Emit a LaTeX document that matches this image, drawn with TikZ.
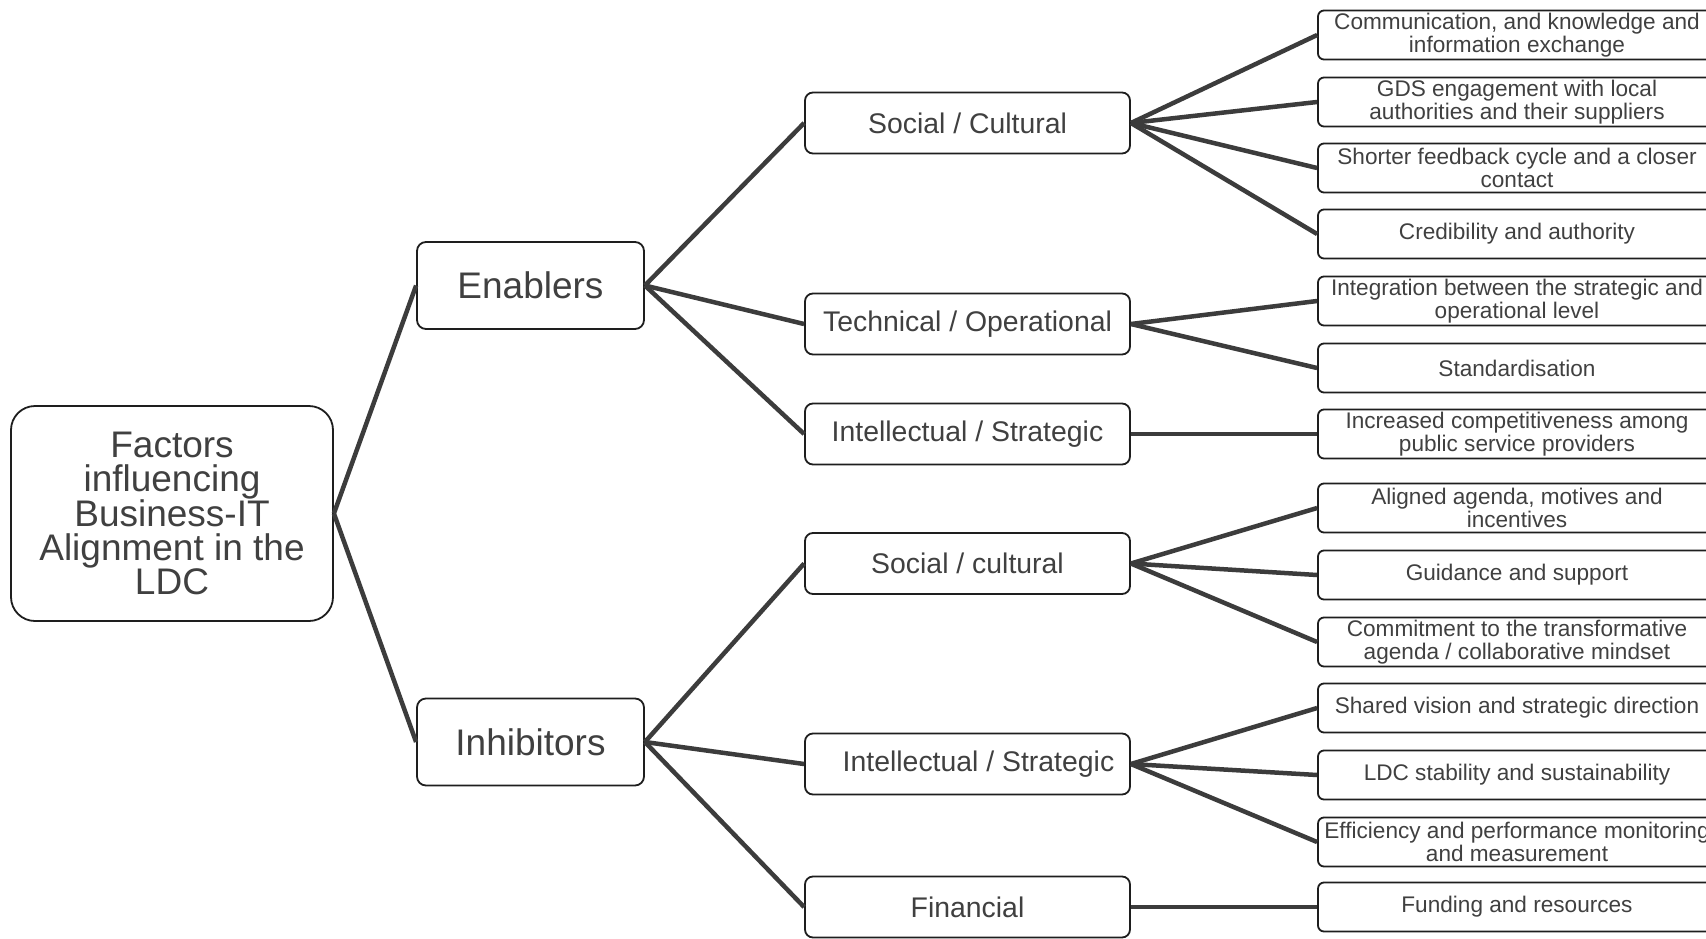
\documentclass[tikz,border=0pt]{standalone}
\usepackage{fontspec}
\setmainfont{Liberation Sans}
\begin{document}
\begin{tikzpicture}[x=1pt,y=-1pt,
  box/.style={draw=boxline, line width=1.8pt, fill=white, text=txt, align=center, inner sep=0pt},
  rootbox/.style={box, rounded corners=24pt, minimum width=322pt, minimum height=215pt,
    font=\fontsize{37}{34}\selectfont},
  groupbox/.style={box, rounded corners=9pt, minimum width=227pt, minimum height=87pt,
    font=\fontsize{37}{34}\selectfont},
  catbox/.style={box, rounded corners=8pt, minimum width=325pt, minimum height=61pt,
    font=\fontsize{28.4}{30}\selectfont},
  leafbox/.style={box, rounded corners=6pt, minimum width=398pt, minimum height=49pt,
    font=\fontsize{22.6}{23}\selectfont},
  link/.style={draw=conn, line width=4.5pt}
]
\definecolor{boxline}{HTML}{1E1E1E}
\definecolor{conn}{HTML}{3C3C3C}
\definecolor{txt}{HTML}{404040}

\fill[white] (0,0) rectangle (1706,938);
\useasboundingbox (0,0) rectangle (1706,938);
\clip (0,0) rectangle (1706,938);

% root and the two main branches
\node[rootbox] (root) at (172,513.5) {Factors\\influencing\\Business-IT\\Alignment in the\\LDC};
\node[groupbox] (enab) at (530.5,285.5) {Enablers};
\node[groupbox] (inhib) at (530.5,742) {Inhibitors};

% categories
\node[catbox] (esoc) at (967.5,123) {Social / Cultural};
\node[catbox] (etech) at (967.5,324) {Technical / Operational};
\node[catbox] (eint) at (967.5,434) {Intellectual / Strategic};
\node[catbox] (isoc) at (967.5,563.5) {Social / cultural};
\node[catbox] (iint) at (967.5,764) {\hspace*{22pt}Intellectual / Strategic};
\node[catbox] (ifin) at (967.5,907) {Financial};

% factors
\node[leafbox] (f1) at (1517,35) {Communication, and knowledge and\\information exchange};
\node[leafbox] (f2) at (1517,102) {GDS engagement with local\\authorities and their suppliers};
\node[leafbox] (f3) at (1517,168) {Shorter feedback cycle and a closer\\contact};
\node[leafbox] (f4) at (1517,234) {Credibility and authority};
\node[leafbox] (f5) at (1517,301) {Integration between the strategic and\\operational level};
\node[leafbox] (f6) at (1517,368) {Standardisation};
\node[leafbox] (f7) at (1517,434) {Increased competitiveness among\\public service providers};
\node[leafbox] (f8) at (1517,508) {Aligned agenda, motives and\\incentives};
\node[leafbox] (f9) at (1517,575) {Guidance and support};
\node[leafbox] (f10) at (1517,642) {Commitment to the transformative\\agenda / collaborative mindset};
\node[leafbox] (f11) at (1517,708) {Shared vision and strategic direction};
\node[leafbox] (f12) at (1517,775) {LDC stability and sustainability};
\node[leafbox] (f13) at (1517,842) {Efficiency and performance monitoring\\and measurement};
\node[leafbox] (f14) at (1517,907) {Funding and resources};

% connectors
\begin{scope}[on background layer/.style={}]
\foreach \a/\b in {root/enab, root/inhib,
  enab/esoc, enab/etech, enab/eint,
  inhib/isoc, inhib/iint, inhib/ifin,
  esoc/f1, esoc/f2, esoc/f3, esoc/f4,
  etech/f5, etech/f6, eint/f7,
  isoc/f8, isoc/f9, isoc/f10,
  iint/f11, iint/f12, iint/f13, ifin/f14}
  \draw[link] (\a.east) -- (\b.west);
\end{scope}
\end{tikzpicture}
\end{document}
